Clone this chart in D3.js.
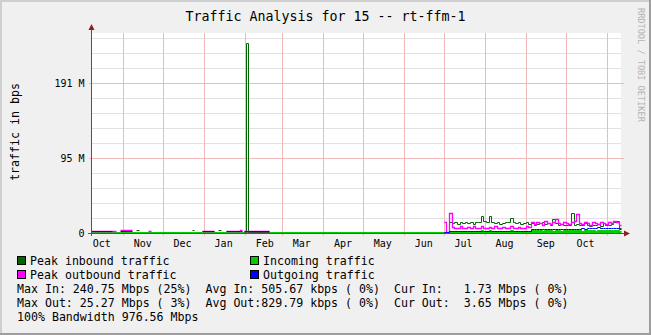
<!DOCTYPE html>
<html>
<head>
<meta charset="utf-8">
<script src="https://cdn.jsdelivr.net/npm/d3@7"></script>
<style>
html, body { margin: 0; padding: 0; background: #fff; }
svg { display: block; font-family: "DejaVu Sans Mono", monospace; }
</style>
</head>
<body>
<svg id="chart" width="651" height="335"></svg>
<script>
// values are in M (bps / 1e6)
const title = 'Traffic Analysis for 15 -- rt-ffm-1';
const yAxisTitle = 'traffic in bps';
const watermark = 'RRDTOOL / TOBI OETIKER';
const monthLabels = ['Oct', 'Nov', 'Dec', 'Jan', 'Feb', 'Mar', 'Apr', 'May', 'Jun', 'Jul', 'Aug', 'Sep', 'Oct'];
const yTickValues = [0, 100, 200];
const yTickLabels = ['0', '95 M', '191 M'];

// first months: sparse samples, null = no data
const earlyDates = ['2006-10-07 22', '2006-10-24', '2006-10-27', '2006-10-30', '2006-11-08', '2006-11-11',
	'2006-11-13', '2006-11-20', '2006-11-22', '2006-12-23', '2006-12-25', '2006-12-31', '2007-01-09',
	'2007-01-12', '2007-01-14', '2007-01-18', '2007-01-28', '2007-01-30', '2007-01-31 12', '2007-02-01 12',
	'2007-02-03 12', '2007-02-19'];
const earlyPeakIn = [null, null, null, null, null, 2.5, null, null, null, 2.5, null, null, null, 2.5, null,
	null, null, null, 0, 252.4, 0, null];
const earlyIn = [0, 0, 0, 0, 0, 0, 0, 0, 0, 0, 0, 0, 0, 0, 0, 0, 0, 0, 0, 0, 0, 0];
const earlyPeakOut = [1.6, 1.0, null, 2.2, null, null, null, 0.8, null, null, null, 2.0, null, null, null,
	1.0, 2.5, null, 2.0, 2.0, 2.0, null];
const earlyOut = [1.8, null, null, 1.8, null, null, null, null, null, null, null, 1.8, null, null, null,
	0.8, 0.8, null, 1.8, 1.8, 1.8, null];

// from July: one sample every 2 days
const recentStart = '2007-07-01';
const recentStepDays = 2;
const recentPeakIn = [
	0, 0, 14, 12, 13, 11, 13, 12, 14, 12, 13, 11, 14, 13, 21, 15,
	13, 21, 14, 12, 13, 11, 12, 14, 13, 19, 13, 12, 13, 11, 12,
	13, 11, 12, 10, 11, 12, 14, 11, 12, 10, 17, 12, 10, 11, 9,
	10, 9, 26, 10, 11, 9, 10, 12, 9, 8, 10, 9, 11, 8, 12, 10,
	9, 11, 14, 15, 6];
const recentIn = [
	0.5, 0.5, 2, 2, 1.5, 2, 1.5, 2, 2, 1.5, 2, 2, 1.5, 2, 2.5, 2,
	2, 2.5, 2, 1.5, 2, 2, 1.5, 2, 2, 2.5, 2, 1.5, 2, 2, 1.5,
	2, 2, 2.5, 2.5, 3, 2.5, 2, 2.5, 3, 2.5, 2, 3, 2.5, 2, 2.5,
	3, 2.5, 3, 2.5, 3, 2.5, 2, 3, 2.5, 3, 2.5, 2, 3, 2.5, 3, 2.5,
	3, 2.5, 3, 2.5, 1.8];
const recentPeakOut = [
	14, 0.5, 26, 7, 6, 5, 8, 6, 5, 7, 6, 8, 5, 6, 8, 6,
	5, 7, 6, 8, 5, 6, 7, 5, 6, 8, 6, 5, 7, 6, 5,
	8, 7, 13, 11, 14, 12, 10, 15, 12, 11, 13, 17, 12, 11, 13,
	12, 11, 13, 15, 24, 12, 11, 14, 12, 10, 13, 12, 11, 14, 12, 11,
	13, 12, 15, 14, 10];
const recentOut = [
	0.5, 0.5, 0.8, 0.8, 0.8, 0.7, 0.8, 0.8, 0.7, 0.8, 0.8, 0.9, 0.8, 0.8, 0.9, 0.8,
	0.8, 0.9, 0.8, 0.8, 0.9, 0.8, 0.8, 0.9, 0.8, 0.8, 0.9, 0.8, 0.8, 0.9, 0.8,
	1.0, 1.5, 3.5, 4, 4, 3.5, 4, 4.5, 4, 3.5, 4, 4, 3.5, 4, 4,
	4, 3.5, 4, 4.5, 4, 4.5, 5, 4.5, 5, 5.5, 5, 6, 6.5, 5, 5.5, 6,
	5.5, 6, 5, 5.5, 3.8];
const endDate = '2007-11-11 20';

const legendLabels = ['Peak inbound traffic', 'Incoming traffic', 'Peak outbound traffic', 'Outgoing traffic'];
const statLines = [
	'Max In: 240.75 Mbps (25%)  Avg In: 505.67 kbps ( 0%)  Cur In:   1.73 Mbps ( 0%)',
	'Max Out: 25.27 Mbps ( 3%)  Avg Out:829.79 kbps ( 0%)  Cur Out:  3.65 Mbps ( 0%)',
	'100% Bandwidth 976.56 Mbps'
];

const colors = {
	peakIn: '#006600',
	in: '#00cc00',
	peakOut: '#ff00ff',
	out: '#0000ff'
};
const legendColors = [colors.peakIn, colors.in, colors.peakOut, colors.out];

const W = 651, H = 335;
const plot = { left: 91, right: 621, top: 33, bottom: 233 };

const parse = (s) => d3.timeParse(s.length > 10 ? '%Y-%m-%d %H' : '%Y-%m-%d')(s);

const recentDates = recentPeakIn.map((_, i) => d3.timeDay.offset(parse(recentStart), i * recentStepDays));
const dates = earlyDates.map(parse).concat(recentDates, [parse(endDate)]);
const series = {
	peakIn: earlyPeakIn.concat(recentPeakIn),
	in: earlyIn.concat(recentIn),
	peakOut: earlyPeakOut.concat(recentPeakOut),
	out: earlyOut.concat(recentOut)
};

const x = d3.scaleTime()
	.domain([parse('2006-10-07 22'), parse(endDate)])
	.range([plot.left, plot.right]);
const y = d3.scaleLinear()
	.domain([0, 800 / 3])
	.range([plot.bottom, plot.top]);

// each sample holds its level until the next date
function steps(values) {
	const pts = [];
	values.forEach((v, i) => {
		if (v == null) {
			pts.push({ t: dates[i], v: null });
			return;
		}
		pts.push({ t: dates[i], v });
		if (values[i + 1] == null) pts.push({ t: dates[i + 1], v });
	});
	return pts;
}

const px = (d) => Math.round(x(d.t)) + 0.5;
const py = (d) => Math.round(y(d.v)) - 0.5;

const line = d3.line()
	.defined((d) => d.v != null)
	.x(px)
	.y(py)
	.curve(d3.curveStepAfter);
const area = d3.area()
	.defined((d) => d.v != null)
	.x(px)
	.y0(plot.bottom)
	.y1(py)
	.curve(d3.curveStepAfter);

const svg = d3.select('#chart');

// frame
svg.append('rect').attr('width', W).attr('height', H).attr('fill', '#f0f0f0');
svg.append('path').attr('d', `M0,0H${W}V2H2V${H}H0Z`).attr('fill', '#cfcfcf');
svg.append('path').attr('d', `M${W},0V${H}H0V${H - 2}H${W - 2}V0Z`).attr('fill', '#9e9e9e');

svg.append('rect')
	.attr('x', plot.left)
	.attr('y', plot.top)
	.attr('width', plot.right - plot.left)
	.attr('height', plot.bottom - plot.top)
	.attr('fill', '#ffffff');

// grid
const grid = svg.append('g').attr('shape-rendering', 'crispEdges');
grid.selectAll('line.minor')
	.data(d3.range(20, 261, 20).filter((v) => v % 100 !== 0))
	.enter()
	.append('line')
	.attr('class', 'minor')
	.attr('x1', plot.left)
	.attr('x2', plot.right)
	.attr('y1', (d) => Math.round(y(d)) + 0.5)
	.attr('y2', (d) => Math.round(y(d)) + 0.5)
	.attr('stroke', '#e2e2e2');
grid.selectAll('line.major')
	.data(yTickValues.filter((v) => v > 0))
	.enter()
	.append('line')
	.attr('class', 'major')
	.attr('x1', plot.left - 2)
	.attr('x2', plot.right + 3)
	.attr('y1', (d) => Math.round(y(d)) + 0.5)
	.attr('y2', (d) => Math.round(y(d)) + 0.5)
	.attr('stroke', '#f2b8b8');

const monthStarts = d3.timeMonth.range(d3.timeMonth.ceil(x.domain()[0]), x.domain()[1]);
grid.selectAll('line.month')
	.data(monthStarts)
	.enter()
	.append('line')
	.attr('class', 'month')
	.attr('x1', (d) => Math.round(x(d)) + 0.5)
	.attr('x2', (d) => Math.round(x(d)) + 0.5)
	.attr('y1', plot.top)
	.attr('y2', plot.bottom + 3)
	.attr('stroke', '#f2b8b8');

// data
const marks = svg.append('g');
marks.append('path')
	.attr('d', area(steps(series.in)))
	.attr('fill', colors.in);
marks.append('path')
	.attr('d', line(steps(series.in)))
	.attr('fill', 'none')
	.attr('stroke', colors.in);
marks.append('path')
	.attr('d', line(steps(series.peakIn)))
	.attr('fill', 'none')
	.attr('stroke', colors.peakIn);
marks.append('path')
	.attr('d', line(steps(series.peakOut)))
	.attr('fill', 'none')
	.attr('stroke', colors.peakOut)
	.attr('stroke-width', 1.3);
marks.append('path')
	.attr('d', line(steps(series.out)))
	.attr('fill', 'none')
	.attr('stroke', colors.out);

// axes
const axes = svg.append('g').attr('shape-rendering', 'crispEdges');
axes.append('line')
	.attr('x1', plot.left + 0.5).attr('x2', plot.left + 0.5)
	.attr('y1', plot.bottom + 3).attr('y2', plot.top - 4)
	.attr('stroke', '#555');
axes.append('line')
	.attr('x1', plot.left - 3).attr('x2', plot.right + 4)
	.attr('y1', plot.bottom + 0.5).attr('y2', plot.bottom + 0.5)
	.attr('stroke', '#555');
svg.append('path')
	.attr('d', `M${plot.left + 0.5},${plot.top - 9}l-3,6h6z`)
	.attr('fill', '#902020');
svg.append('path')
	.attr('d', `M${plot.right + 9},${plot.bottom + 0.5}l-6,-3v6z`)
	.attr('fill', '#902020');

svg.append('g')
	.selectAll('text')
	.data(monthLabels)
	.enter()
	.append('text')
	.attr('x', (d, i) => x(d3.timeDay.offset(d3.timeMonth.offset(new Date(2006, 9, 1), i), 15)))
	.attr('y', 246.5)
	.attr('text-anchor', 'middle')
	.attr('font-size', '10px')
	.attr('fill', '#000')
	.text((d) => d);

svg.append('g')
	.selectAll('text')
	.data(yTickValues)
	.enter()
	.append('text')
	.attr('x', 84.5)
	.attr('y', (d) => Math.round(y(d)) + 3.5)
	.attr('text-anchor', 'end')
	.attr('font-size', '10px')
	.attr('fill', '#000')
	.text((d, i) => yTickLabels[i]);

// titles
svg.append('text')
	.attr('x', 325.5)
	.attr('y', 21)
	.attr('text-anchor', 'middle')
	.attr('font-size', '13.3px')
	.attr('fill', '#000')
	.text(title);
svg.append('text')
	.attr('transform', 'translate(18.5,132) rotate(-90)')
	.attr('text-anchor', 'middle')
	.attr('font-size', '11.6px')
	.attr('fill', '#000')
	.text(yAxisTitle);
svg.append('text')
	.attr('transform', 'translate(638,8) rotate(90)')
	.attr('font-size', '8.6px')
	.attr('fill', '#b4b4b4')
	.text(watermark);

// legend
const legend = svg.append('g')
	.selectAll('g')
	.data(legendLabels)
	.enter()
	.append('g')
	.attr('transform', (d, i) => `translate(${i % 2 === 0 ? 17 : 250},${265 + Math.floor(i / 2) * 14})`);
legend.append('rect')
	.attr('x', 0.5)
	.attr('y', -8.5)
	.attr('width', 8)
	.attr('height', 8)
	.attr('fill', (d, i) => legendColors[i])
	.attr('stroke', '#000')
	.attr('shape-rendering', 'crispEdges');
legend.append('text')
	.attr('x', 13)
	.attr('font-size', '11.6px')
	.attr('fill', '#000')
	.text((d) => d);

svg.append('g')
	.selectAll('text')
	.data(statLines)
	.enter()
	.append('text')
	.attr('x', 17)
	.attr('y', (d, i) => 293 + i * 14)
	.attr('font-size', '11.6px')
	.attr('fill', '#000')
	.attr('xml:space', 'preserve')
	.style('white-space', 'pre')
	.text((d) => d);
</script>
</body>
</html>
